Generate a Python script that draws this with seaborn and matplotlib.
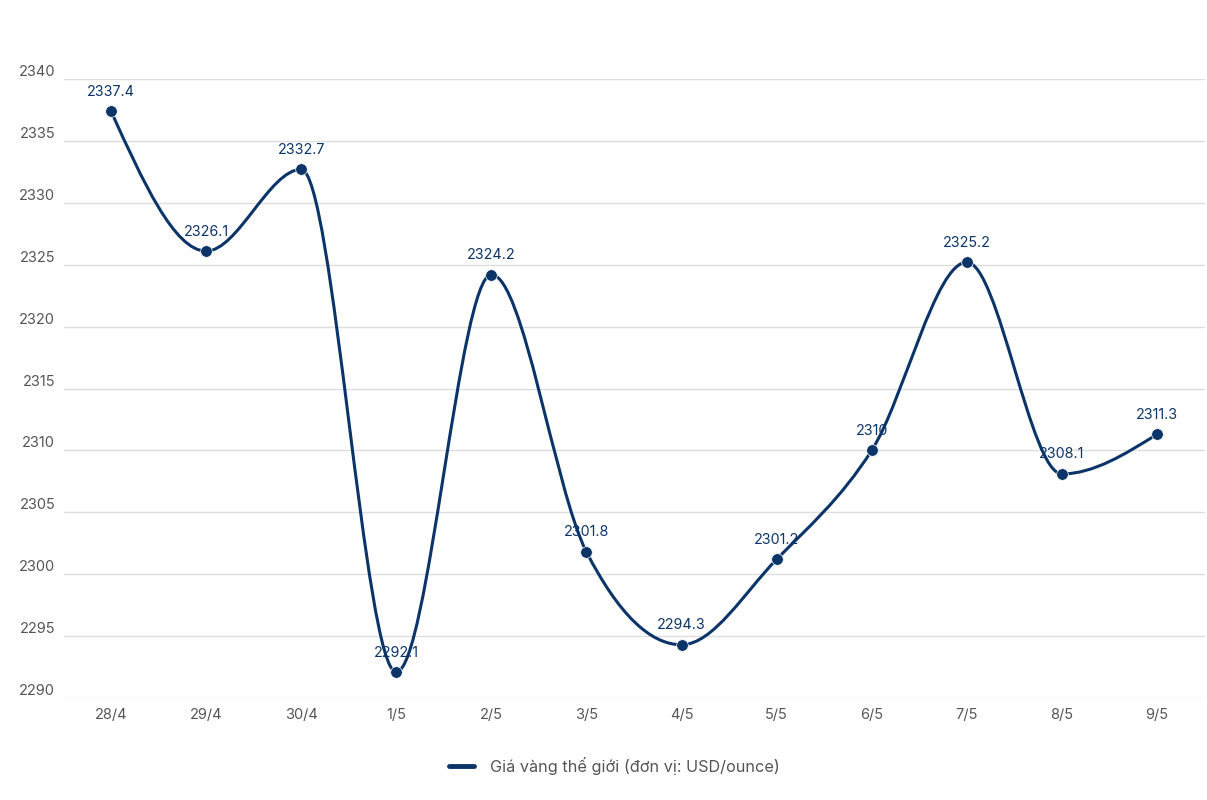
import numpy as np
import pandas as pd
import matplotlib
matplotlib.use("Agg")
import matplotlib.pyplot as plt
import seaborn as sns
from matplotlib.path import Path
from matplotlib.patches import PathPatch
from matplotlib.lines import Line2D

dates = ["28/4", "29/4", "30/4", "1/5", "2/5", "3/5", "4/5", "5/5", "6/5", "7/5", "8/5", "9/5"]
prices = [2337.4, 2326.1, 2332.7, 2292.1, 2324.2, 2301.8, 2294.3, 2301.2, 2310, 2325.2, 2308.1, 2311.3]
labels = ["2337.4", "2326.1", "2332.7", "2292.1", "2324.2", "2301.8", "2294.3", "2301.2", "2310", "2325.2", "2308.1", "2311.3"]
yticks = [2290, 2295, 2300, 2305, 2310, 2315, 2320, 2325, 2330, 2335, 2340]
series_name = "Giá vàng thế giới (đơn vị: USD/ounce)"

navy = "#0b3468"
grey = "#555555"

sns.set_theme(style="white")
plt.rcParams["font.family"] = ["Inter", "DejaVu Sans"]

df = pd.DataFrame({"x": np.arange(len(dates)), "price": prices})

fig = plt.figure(figsize=(12.07, 8.0), dpi=100)
ax = fig.add_axes([63.5 / 1207, 1 - 698 / 800, (1204.5 - 63.5) / 1207, (698 - 79) / 800])

# monotone-x cubic path (rendering of the line through the data points)
xs = df["x"].to_numpy(dtype=float)
ys = df["price"].to_numpy(dtype=float)
n = len(xs)
h = np.diff(xs)
s = np.diff(ys) / h
t = np.zeros(n)
for i in range(1, n - 1):
    p = (s[i - 1] * h[i] + s[i] * h[i - 1]) / (h[i - 1] + h[i])
    t[i] = (np.sign(s[i - 1]) + np.sign(s[i])) * min(abs(s[i - 1]), abs(s[i]), 0.5 * abs(p))
t[0] = (3 * s[0] - t[1]) / 2
t[-1] = (3 * s[-1] - t[-2]) / 2
verts = [(xs[0], ys[0])]
codes = [Path.MOVETO]
for i in range(n - 1):
    dx = (xs[i + 1] - xs[i]) / 3.0
    verts += [(xs[i] + dx, ys[i] + dx * t[i]), (xs[i + 1] - dx, ys[i + 1] - dx * t[i + 1]), (xs[i + 1], ys[i + 1])]
    codes += [Path.CURVE4] * 3
ax.add_patch(PathPatch(Path(verts, codes), facecolor="none", edgecolor=navy, lw=2.2, zorder=3))

sns.scatterplot(data=df, x="x", y="price", color=navy, s=70, edgecolor="white", linewidth=0.5, zorder=4, ax=ax, legend=False)

for xi, yi, lab in zip(xs, ys, labels):
    ax.annotate(lab, (xi, yi), xytext=(0, 9), textcoords="offset points", ha="center", va="bottom",
                fontsize=10.3, color=navy, zorder=5)

ax.set_xlim(-0.5, len(dates) - 0.5)
ax.set_ylim(2290, 2340)
ax.set_yticks(yticks)
ax.set_yticklabels([str(t) for t in yticks])
ax.set_xticks(xs)
ax.set_xticklabels(dates)
ax.grid(axis="y", color="#dddddd", lw=1)
ax.grid(axis="x", visible=False)
for sp in ax.spines.values():
    sp.set_visible(False)
ax.tick_params(axis="y", labelsize=10.5, colors=grey, length=0, pad=6)
ax.tick_params(axis="x", labelsize=10.5, colors=grey, length=0, pad=7)
for lab in ax.get_yticklabels():
    lab.set_verticalalignment("bottom")
ax.set_xlabel("")
ax.set_ylabel("")

handle = Line2D([], [], color=navy, lw=3.5)
fig.legend([handle], [series_name], loc="center", bbox_to_anchor=(0.509, 1 - 766 / 800), frameon=False,
           fontsize=11.7, labelcolor=grey, handlelength=1.5, handletextpad=1.0)

fig.savefig("out.png", dpi=100, facecolor="white")
